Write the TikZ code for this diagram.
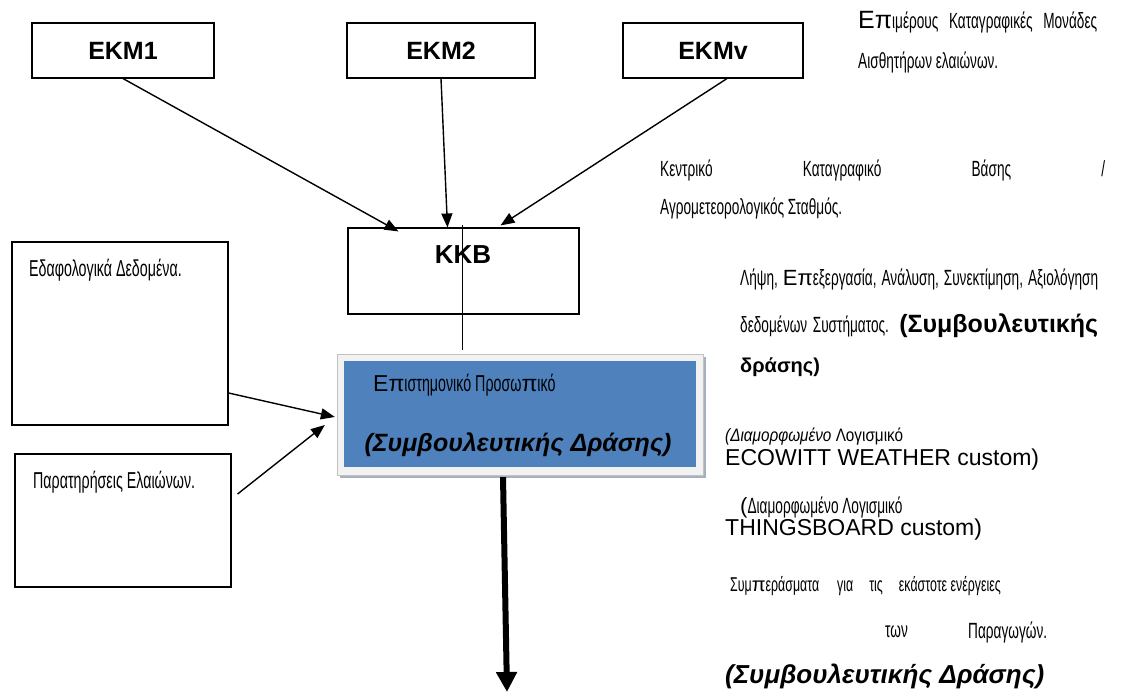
\documentclass[tikz,border=0pt]{standalone}
\usepackage{fontspec}
\setmainfont{Liberation Sans}
\newfontfamily\reg{Liberation Sans}
\newfontfamily\nar[FakeStretch=0.62]{Liberation Sans}
\newfontfamily\semi[FakeStretch=0.85]{Liberation Sans}
\usetikzlibrary{arrows.meta,shadows}
\definecolor{boxblue}{HTML}{4F81BD}
\definecolor{framegray}{HTML}{F2F2F2}
\definecolor{shadowgray}{HTML}{A7B0BE}
\newcommand{\RPI}{{\reg π}}
\newcommand{\REP}{{\reg Επ}}
\tikzset{
  box/.style={draw, line width=1.1pt, inner sep=0pt},
  lbl/.style={font=\bfseries\fontsize{25}{27}\selectfont},
  arr/.style={line width=1.4pt, -{Triangle[width=11pt,length=14pt]}},
  txt/.style={anchor=west, inner sep=0pt},
  nt/.style={txt, font=\nar\fontsize{22}{24}\selectfont},
  bt/.style={txt, font=\bfseries\fontsize{20}{22}\selectfont},
  rt/.style={txt, font=\fontsize{23}{25}\selectfont}
}
\begin{document}
\begin{tikzpicture}[x=1pt,y=-1pt]
\useasboundingbox[fill=white] (0,0) rectangle (1124,700);

% top boxes
\node[box, lbl, minimum width=182pt, minimum height=55pt] (ekm1) at (123,50.5) {EKM1};
\node[box, lbl, minimum width=188pt, minimum height=55pt] (ekm2) at (441,50.5) {EKM2};
\node[box, lbl, minimum width=180pt, minimum height=55pt] (ekmv) at (713,50.5) {EKMv};

% KKB
\node[box, minimum width=231pt, minimum height=86pt] (kkb) at (463.5,271) {};
\node[inner sep=0pt, font=\bfseries\fontsize{26}{28}\selectfont] (kkbt) at (463,255) {KKB};

% scientific staff box
\node[fill=framegray, draw=framegray!80!black, line width=0.3pt, minimum width=366pt, minimum height=121pt,
      drop shadow={shadow xshift=3pt, shadow yshift=-3pt, fill=shadowgray, opacity=1}] (frame) at (520,414.5) {};
\node[fill=boxblue, minimum width=352pt, minimum height=106pt] (blue) at (520,414) {};
\node[txt, font=\nar\fontsize{23}{25}\selectfont] (sci) at (373,385) {\REP ιστημονικό Προσω\RPI ικό};
\node[inner sep=0pt, font=\bfseries\itshape\fontsize{25}{27}\selectfont] (scisub) at (518,445) {(Συμβουλευτικής Δράσης)};

% left boxes
\node[box, minimum width=216pt, minimum height=183pt] (soil) at (120,333.5) {};
\node[txt, font=\nar\fontsize{23}{25}\selectfont] (soilt) at (29,270) {Εδαφολογικά Δεδομένα.};
\node[box, minimum width=216pt, minimum height=133pt] (obs) at (123,520.5) {};
\node[txt, font=\nar\fontsize{23}{25}\selectfont] (obst) at (33,482) {Παρατηρήσεις Ελαιώνων.};

% connectors
\draw[arr] (ekm1.south) -- ([xshift=-65pt,yshift=-4pt]kkb.north);
\draw[arr] (ekm2.south) -- ([xshift=-16pt]kkb.north);
\draw[arr] ([xshift=14pt]ekmv.south) -- ([xshift=37pt,yshift=2pt]kkb.north);
\draw[line width=1pt] ([xshift=-1.5pt,yshift=2pt]kkb.north) -- ([xshift=-58pt,yshift=4pt]frame.north);
\draw[arr] ([yshift=-59.5pt]soil.east) -- ([xshift=-2pt,yshift=-2.5pt]frame.west);
\draw[arr] ([xshift=6pt,yshift=26.5pt]obs.east) -- ([xshift=-12pt,yshift=-10.5pt]frame.west);
\coordinate (out) at (507,692);
\draw[line width=6pt, -{Triangle[width=20pt,length=20pt]}] ([xshift=-17pt,yshift=-2pt]frame.south) -- (out);

% right-hand text
\node[nt] (r1) at (858,22) {\makebox[239pt][s]{{\reg\fontsize{25}{27}\selectfont Επ}ιμέρους Καταγραφικές Μονάδες}};
\node[nt] (r2) at (858,62) {Αισθητήρων ελαιώνων.};
\node[nt] (r3) at (660,170) {\makebox[445pt][s]{Κεντρικό Καταγραφικό Βάσης /}};
\node[nt] (r4) at (660,208) {Αγρομετεορολογικός Σταθμός.};
\node[nt] (r5) at (740,279) {\makebox[358pt][s]{Λήψη, \REP εξεργασία, Ανάλυση, Συνεκτίμηση, Αξιολόγηση}};
\node[nt] (r6) at (740,326) {\makebox[358pt][s]{δεδομένων Συστήματος. {\reg\bfseries\fontsize{25}{27}\selectfont (Συμβουλευτικής}}};
\node[bt] (r7) at (740,367) {δράσης)};
\node[txt, font=\semi\fontsize{18}{20}\selectfont] (r8) at (725,437) {\textit{(Διαμορφωμένο} Λογισμικό};
\node[rt] (r9) at (725,460) {ECOWITT WEATHER custom)};
\node[nt] (r10) at (740,507) {{\reg (}Διαμορφωμένο Λογισμικό};
\node[rt] (r11) at (725,530) {THINGSBOARD custom)};
\node[nt, font=\nar\fontsize{20}{22}\selectfont] (r12) at (730,586) {Συμ\RPI εράσματα\hspace{18pt}για\hspace{16pt}τις\hspace{16pt}εκάστοτε ενέργειες};
\node[nt] (r13a) at (885,632) {των};
\node[nt] (r13b) at (968,632) {Παραγωγών.};
\node[txt, font=\bfseries\itshape\fontsize{26}{28}\selectfont] (r14) at (725,676) {(Συμβουλευτικής Δράσης)};
\end{tikzpicture}
\end{document}
